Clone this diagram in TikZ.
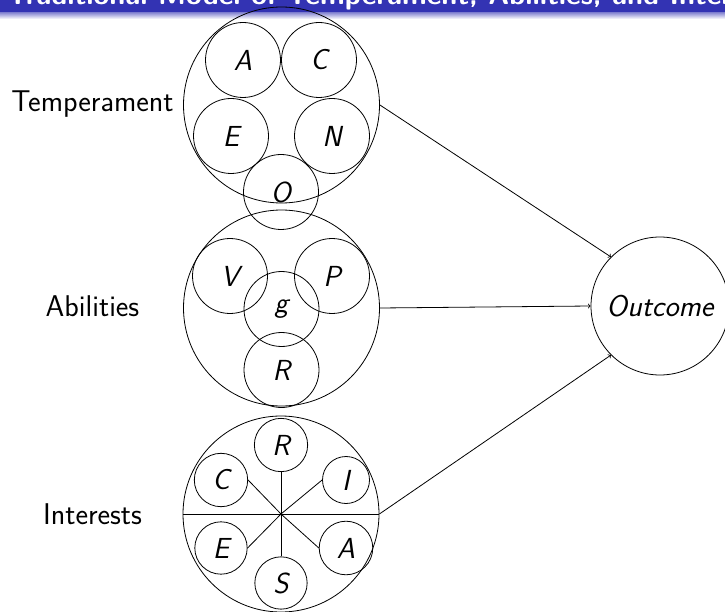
\documentclass[tikz,border=0pt]{standalone}
\usetikzlibrary{arrows}
\definecolor{beamerblue}{RGB}{51,51,179}
\begin{document}
\begin{tikzpicture}[x=1pt,y=-1pt,
  line width=0.8pt,
  lbl/.style={font=\sffamily\fontsize{30}{34}\selectfont, inner sep=0pt},
  big/.style={circle, draw, minimum size=196pt, inner sep=0pt},
  mid/.style={circle, draw, minimum size=75pt, inner sep=0pt, font=\sffamily\itshape\fontsize{29}{34}\selectfont},
  sml/.style={circle, draw, inner sep=9.4pt, font=\sffamily\itshape\fontsize{29}{34}\selectfont},
  outc/.style={circle, draw, minimum size=138pt, inner sep=0pt, font=\sffamily\itshape\fontsize{30}{34}\selectfont},
  conn/.style={->}]
\useasboundingbox (0,0) rectangle (725,612);
\clip (0,0) rectangle (725,612);
% title bar
\fill[beamerblue] (0,0) rectangle (725,13);
\shade[top color=beamerblue!55, bottom color=white] (0,13) rectangle (725,19);
\node[anchor=base west, text=white, inner sep=0pt, font=\sffamily\bfseries\fontsize{28.6}{34}\selectfont] (title) at (7,4.5) {Traditional Model of Temperament, Abilities, and Interests};
% Temperament
\node[big] (T) at (281.5,105) {};
\node[lbl] (Tl) at (92.5,104) {Temperament};
\node[mid] (TA) at (243,60) {A};
\node[mid] (TC) at (319,60) {C};
\node[mid] (TE) at (231,136) {E};
\node[mid] (TN) at (332,136) {N};
\node[mid] (TO) at (281,192) {O};
% Abilities
\node[big] (Ab) at (281.5,308) {};
\node[lbl] (Abl) at (92.5,306) {Abilities};
\node[mid] (AV) at (230,276) {V};
\node[mid] (AP) at (332,276) {P};
\node[mid] (Ag) at (281.5,309) {g};
\node[mid] (AR) at (281.5,370) {R};
% Interests
\node[big] (In) at (281,514) {};
\node[lbl] (Inl) at (92.5,514) {Interests};
\node[sml] (IR) at (281,445) {R};
\node[sml] (II) at (346,480) {I};
\node[sml] (IC) at (221,480) {C};
\node[sml] (IE) at (221,548) {E};
\node[sml] (IA) at (346,548) {A};
\node[sml] (IS) at (281,583) {S};
\coordinate (ic) at (In.center);
\draw (In.west) -- (In.east);
\draw (ic) -- (IR.south);
\draw (ic) -- (IS.north);
\draw (ic) -- (II.west);
\draw (ic) -- (IA.west);
\draw (ic) -- (IC.east);
\draw (ic) -- (IE.east);
% Outcome
\node[outc] (Out) at (660,306) {Outcome};
\draw[conn] (T.east) -- (Out.north west);
\draw[conn] (Ab.east) -- (Out.west);
\draw[conn] (In.east) -- (Out.south west);
\end{tikzpicture}
\end{document}
